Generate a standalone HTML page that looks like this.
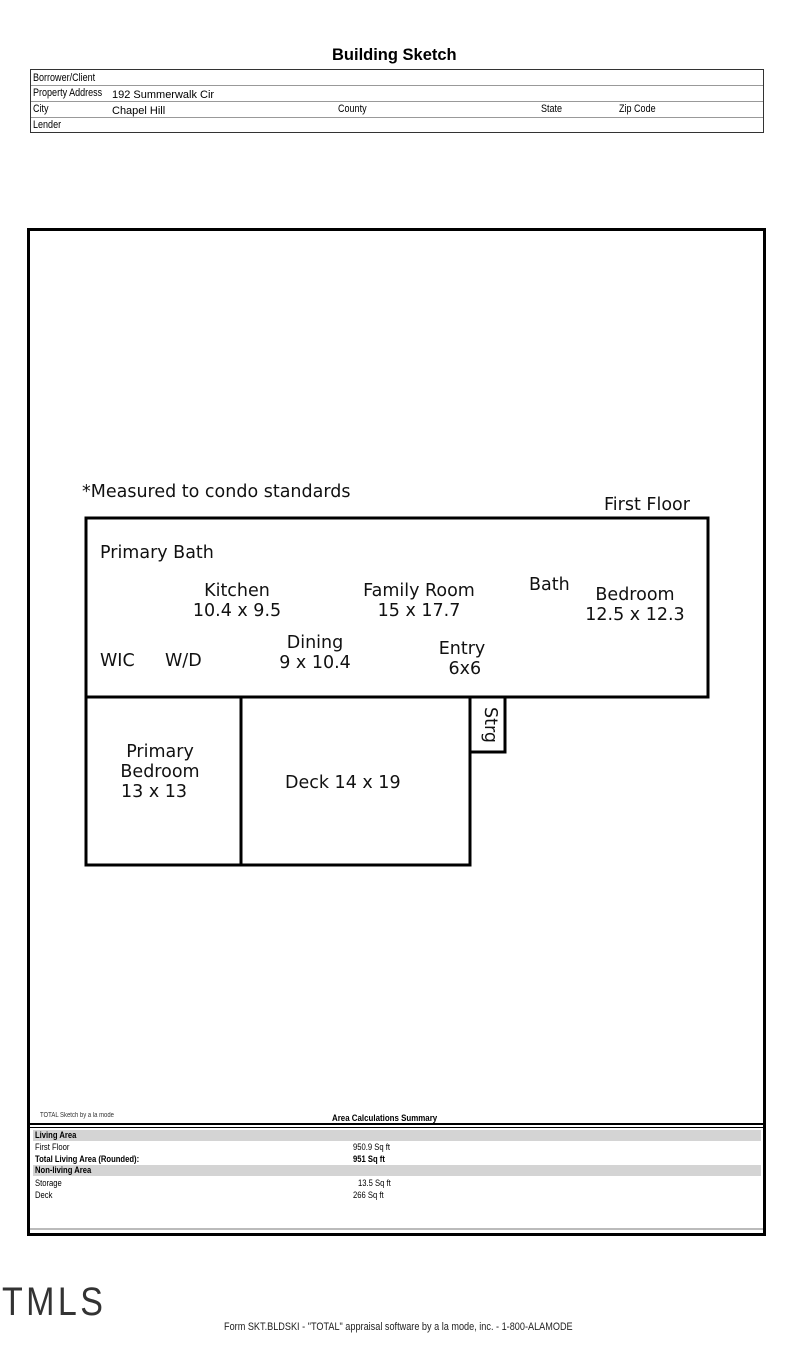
<!DOCTYPE html>
<html><head><style>
body{margin:0;width:800px;height:1366px;background:#fff;position:relative;font-family:"Liberation Sans",sans-serif;overflow:hidden}
.a{position:absolute;white-space:nowrap}
.n{font-family:"Liberation Sans Narrow","Liberation Sans",sans-serif;transform-origin:left top}
.r{font-family:"DejaVu Sans",sans-serif;font-size:17.5px;color:#111;text-align:center;line-height:20px}
</style></head><body>
<div class="a" style="left:332px;top:45px;font-size:17px;font-weight:bold;transform:scaleX(.97);transform-origin:left top">Building Sketch</div>
<div class="a" style="left:30px;top:69px;width:732px;height:62px;border:1px solid #333"></div>
<div class="a" style="left:31px;top:85px;width:732px;border-top:1px solid #999"></div>
<div class="a" style="left:31px;top:101px;width:732px;border-top:1px solid #999"></div>
<div class="a" style="left:31px;top:117px;width:732px;border-top:1px solid #999"></div>
<div class="a n" style="left:33px;top:72px;font-size:11px;transform:scaleX(.82)">Borrower/Client</div>
<div class="a n" style="left:33px;top:87px;font-size:11px;transform:scaleX(.82)">Property Address</div>
<div class="a" style="left:112px;top:89px;font-size:11px">192 Summerwalk Cir</div>
<div class="a n" style="left:33px;top:103px;font-size:11px;transform:scaleX(.82)">City</div>
<div class="a" style="left:112px;top:105px;font-size:11px">Chapel Hill</div>
<div class="a n" style="left:338px;top:103px;font-size:11px;transform:scaleX(.82)">County</div>
<div class="a n" style="left:541px;top:103px;font-size:11px;transform:scaleX(.82)">State</div>
<div class="a n" style="left:619px;top:103px;font-size:11px;transform:scaleX(.82)">Zip Code</div>
<div class="a n" style="left:33px;top:119px;font-size:11px;transform:scaleX(.82)">Lender</div>

<div class="a" style="left:27px;top:228px;width:733px;height:1002px;border:3px solid #000"></div>
<div class="a" style="left:30px;top:1123px;width:733px;height:2px;background:#000"></div>
<div class="a" style="left:30px;top:1127px;width:733px;height:1px;background:#000"></div>
<div class="a" style="left:30px;top:1228px;width:733px;height:2px;background:#bbb"></div>

<svg class="a" style="left:0;top:0" width="800" height="1366">
<g fill="none" stroke="#000" stroke-width="3">
<rect x="86" y="518" width="622" height="179"/>
<rect x="86" y="697" width="155" height="168"/>
<rect x="241" y="697" width="229" height="168"/>
<rect x="470" y="697" width="35" height="55"/>
</g></svg>

<div class="a r" style="left:82px;top:482px">*Measured to condo standards</div>
<div class="a r" style="left:604px;top:495px">First Floor</div>
<div class="a r" style="left:100px;top:543px">Primary Bath</div>
<div class="a r" style="left:167px;top:581px;width:140px">Kitchen<br>10.4 x 9.5</div>
<div class="a r" style="left:339px;top:581px;width:160px">Family Room<br>15 x 17.7</div>
<div class="a r" style="left:529px;top:575px">Bath</div>
<div class="a r" style="left:570px;top:585px;width:130px">Bedroom<br>12.5 x 12.3</div>
<div class="a r" style="left:100px;top:651px">WIC</div>
<div class="a r" style="left:165px;top:651px">W/D</div>
<div class="a r" style="left:250px;top:633px;width:130px">Dining<br>9 x 10.4</div>
<div class="a r" style="left:427px;top:639px;width:70px">Entry<br>&nbsp;6x6</div>
<div class="a r" style="top:707px;transform:rotate(90deg);transform-origin:left top;left:500px">Strg</div>
<div class="a r" style="left:105px;top:742px;width:110px">Primary<br>Bedroom</div>
<div class="a r" style="left:121px;top:782px">13 x 13</div>
<div class="a r" style="left:285px;top:773px">Deck 14 x 19</div>

<div class="a n" style="left:40px;top:1112px;font-size:7px;color:#333;transform:scaleX(.85)">TOTAL Sketch by a la mode</div>
<div class="a n" style="left:332px;top:1113px;font-size:9px;font-weight:bold;transform:scaleX(.88)">Area Calculations Summary</div>
<div class="a" style="left:33px;top:1130px;width:728px;height:11px;background:#d4d4d4"></div>
<div class="a" style="left:33px;top:1165px;width:728px;height:11px;background:#d4d4d4"></div>
<div class="a n" style="left:35px;top:1130px;font-size:9px;font-weight:bold;transform:scaleX(.85)">Living Area</div>
<div class="a n" style="left:35px;top:1142px;font-size:9px;transform:scaleX(.85)">First Floor</div>
<div class="a n" style="left:353px;top:1142px;font-size:9px;transform:scaleX(.85)">950.9 Sq ft</div>
<div class="a n" style="left:35px;top:1154px;font-size:9px;font-weight:bold;transform:scaleX(.85)">Total Living Area (Rounded):</div>
<div class="a n" style="left:353px;top:1154px;font-size:9px;font-weight:bold;transform:scaleX(.85)">951 Sq ft</div>
<div class="a n" style="left:35px;top:1165px;font-size:9px;font-weight:bold;transform:scaleX(.85)">Non-living Area</div>
<div class="a n" style="left:35px;top:1178px;font-size:9px;transform:scaleX(.85)">Storage</div>
<div class="a n" style="left:358px;top:1178px;font-size:9px;transform:scaleX(.85)">13.5 Sq ft</div>
<div class="a n" style="left:35px;top:1190px;font-size:9px;transform:scaleX(.85)">Deck</div>
<div class="a n" style="left:353px;top:1190px;font-size:9px;transform:scaleX(.85)">266 Sq ft</div>

<div class="a" style="left:2px;top:1280px;font-size:40px;font-weight:100;color:#333;letter-spacing:4px;transform:scaleX(.85);transform-origin:left top">TMLS</div>
<div class="a n" style="left:224px;top:1321px;font-size:11px;color:#222;transform:scaleX(.83)">Form SKT.BLDSKI - "TOTAL" appraisal software by a la mode, inc. - 1-800-ALAMODE</div>
</body></html>
